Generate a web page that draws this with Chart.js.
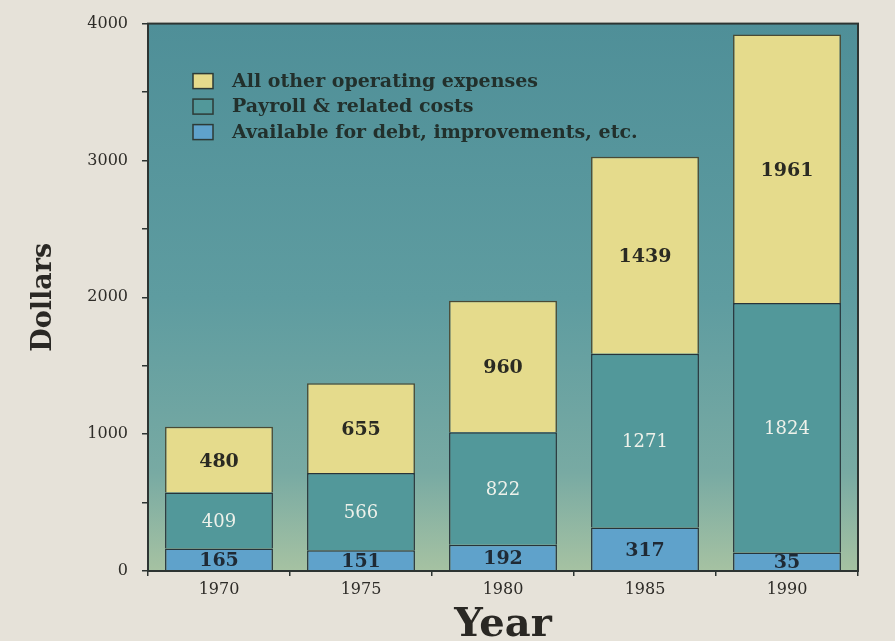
<!DOCTYPE html>
<html>
<head>
<meta charset="utf-8">
<script src="https://cdn.jsdelivr.net/npm/chart.js@4"></script>
<style>
  html, body { margin: 0; padding: 0; background: #e6e2d9; }
  #wrap { width: 895px; height: 641px; }
</style>
</head>
<body>
<div id="wrap"><canvas id="myChart" width="895" height="641"></canvas></div>
<script>
// the numbers printed on the chart
const years = ['1970', '1975', '1980', '1985', '1990'];
const available = [165, 151, 192, 317, 135];   // 1990 bar is drawn ~135 tall
const payroll = [409, 566, 822, 1271, 1824];
const otherExpenses = [480, 655, 960, 1439, 1961];
// labels as printed (the 1990 one reads "35")
const availableLabels = ['165', '151', '192', '317', '35'];

const serif = '"DejaVu Serif", "Liberation Serif", serif';

// teal gradient behind the bars + frame
const plotBg = {
  id: 'plotBg',
  beforeDraw(chart) {
    const { ctx, chartArea: a } = chart;
    const g = ctx.createLinearGradient(0, a.top, 0, a.bottom);
    g.addColorStop(0, '#4f8f98');
    g.addColorStop(0.5, '#5e9ca0');
    g.addColorStop(0.82, '#78aaa3');
    g.addColorStop(1, '#a6c2a2');
    ctx.save();
    ctx.fillStyle = g;
    ctx.fillRect(a.left, a.top, a.right - a.left, a.bottom - a.top);
    ctx.restore();
  },
  afterDraw(chart) {
    const { ctx, chartArea: a } = chart;
    ctx.save();
    ctx.strokeStyle = '#2d3432';
    ctx.lineWidth = 2;
    ctx.strokeRect(a.left, a.top, a.right - a.left, a.bottom - a.top);
    ctx.restore();
  }
};

// numbers inside the bars
const barText = {
  id: 'barText',
  afterDatasetsDraw(chart) {
    const { ctx } = chart;
    ctx.save();
    ctx.textAlign = 'center';
    ctx.textBaseline = 'middle';
    chart.data.datasets.forEach((ds, i) => {
      const meta = chart.getDatasetMeta(i);
      meta.data.forEach((bar, j) => {
        const txt = ds.printed ? ds.printed[j] : String(ds.data[j]);
        const y = (bar.y + bar.base) / 2;
        ctx.fillStyle = ds.textColor;
        ctx.font = ds.textFont;
        ctx.fillText(txt, bar.x, y + 2);
      });
    });
    ctx.restore();
  }
};

// legend drawn inside the plot area, top row = top of the stack
const innerLegend = {
  id: 'innerLegend',
  afterDraw(chart) {
    const { ctx, chartArea: a } = chart;
    const items = chart.data.datasets.slice().reverse();
    ctx.save();
    ctx.font = 'bold 19px ' + serif;
    ctx.textBaseline = 'middle';
    items.forEach((ds, i) => {
      const x = a.left + 45;
      const y = a.top + 57 + i * 25.5;
      ctx.fillStyle = ds.backgroundColor;
      ctx.fillRect(x, y - 7, 20, 15);
      ctx.strokeStyle = '#2d3a36';
      ctx.lineWidth = 1.5;
      ctx.strokeRect(x, y - 7, 20, 15);
      ctx.fillStyle = '#22302c';
      ctx.fillText(ds.label, x + 39, y + 1);
    });
    ctx.restore();
  }
};

const ctx = document.getElementById('myChart');

new Chart(ctx, {
  type: 'bar',
  data: {
    labels: years,
    datasets: [
      {
        label: 'Available for debt, improvements, etc.',
        data: available,
        printed: availableLabels,
        backgroundColor: '#5fa2cb',
        borderColor: '#27343a',
        borderWidth: 1.5,
        textColor: '#1f2a35',
        textFont: 'bold 19px ' + serif
      },
      {
        label: 'Payroll & related costs',
        data: payroll,
        backgroundColor: '#52989a',
        borderColor: '#27343a',
        borderWidth: 1.5,
        textColor: '#eef1ea',
        textFont: '18px ' + serif
      },
      {
        label: 'All other operating expenses',
        data: otherExpenses,
        backgroundColor: '#e5db8c',
        borderColor: '#4a4a34',
        borderWidth: 1.5,
        textColor: '#2a2a22',
        textFont: 'bold 19px ' + serif
      }
    ]
  },
  options: {
    responsive: false,
    animation: false,
    layout: { padding: { top: 23, right: 37, left: 0, bottom: 0 } },
    plugins: {
      legend: { display: false },
      tooltip: { enabled: false }
    },
    datasets: {
      bar: { categoryPercentage: 0.76, barPercentage: 1 }
    },
    scales: {
      x: {
        stacked: true,
        afterFit: s => { s.height = 70; },
        grid: { drawOnChartArea: false, tickLength: 5, color: '#2d3432', lineWidth: 1.5 },
        border: { display: false },
        ticks: { color: '#2e2c28', font: { family: serif, size: 16 }, padding: 4 },
        title: {
          display: true, text: 'Year', color: '#2a2824',
          font: { family: serif, size: 40, weight: 'bold' }, padding: { top: 0, bottom: -9 }
        }
      },
      y: {
        stacked: true,
        min: 0, max: 4000,
        afterFit: s => { s.width = 148; },
        grid: { drawOnChartArea: false, tickLength: 6, color: '#2d3432', lineWidth: 1.5 },
        border: { display: false },
        ticks: {
          stepSize: 500,
          color: '#2e2c28',
          font: { family: serif, size: 16 },
          padding: 14,
          callback: v => (v % 1000 === 0 ? v : '')
        },
        title: {
          display: true, text: 'Dollars', color: '#2a2824',
          font: { family: serif, size: 27, weight: 'bold' }, padding: { top: 28, bottom: 0 }
        }
      }
    }
  },
  plugins: [plotBg, barText, innerLegend]
});
</script>
</body>
</html>
